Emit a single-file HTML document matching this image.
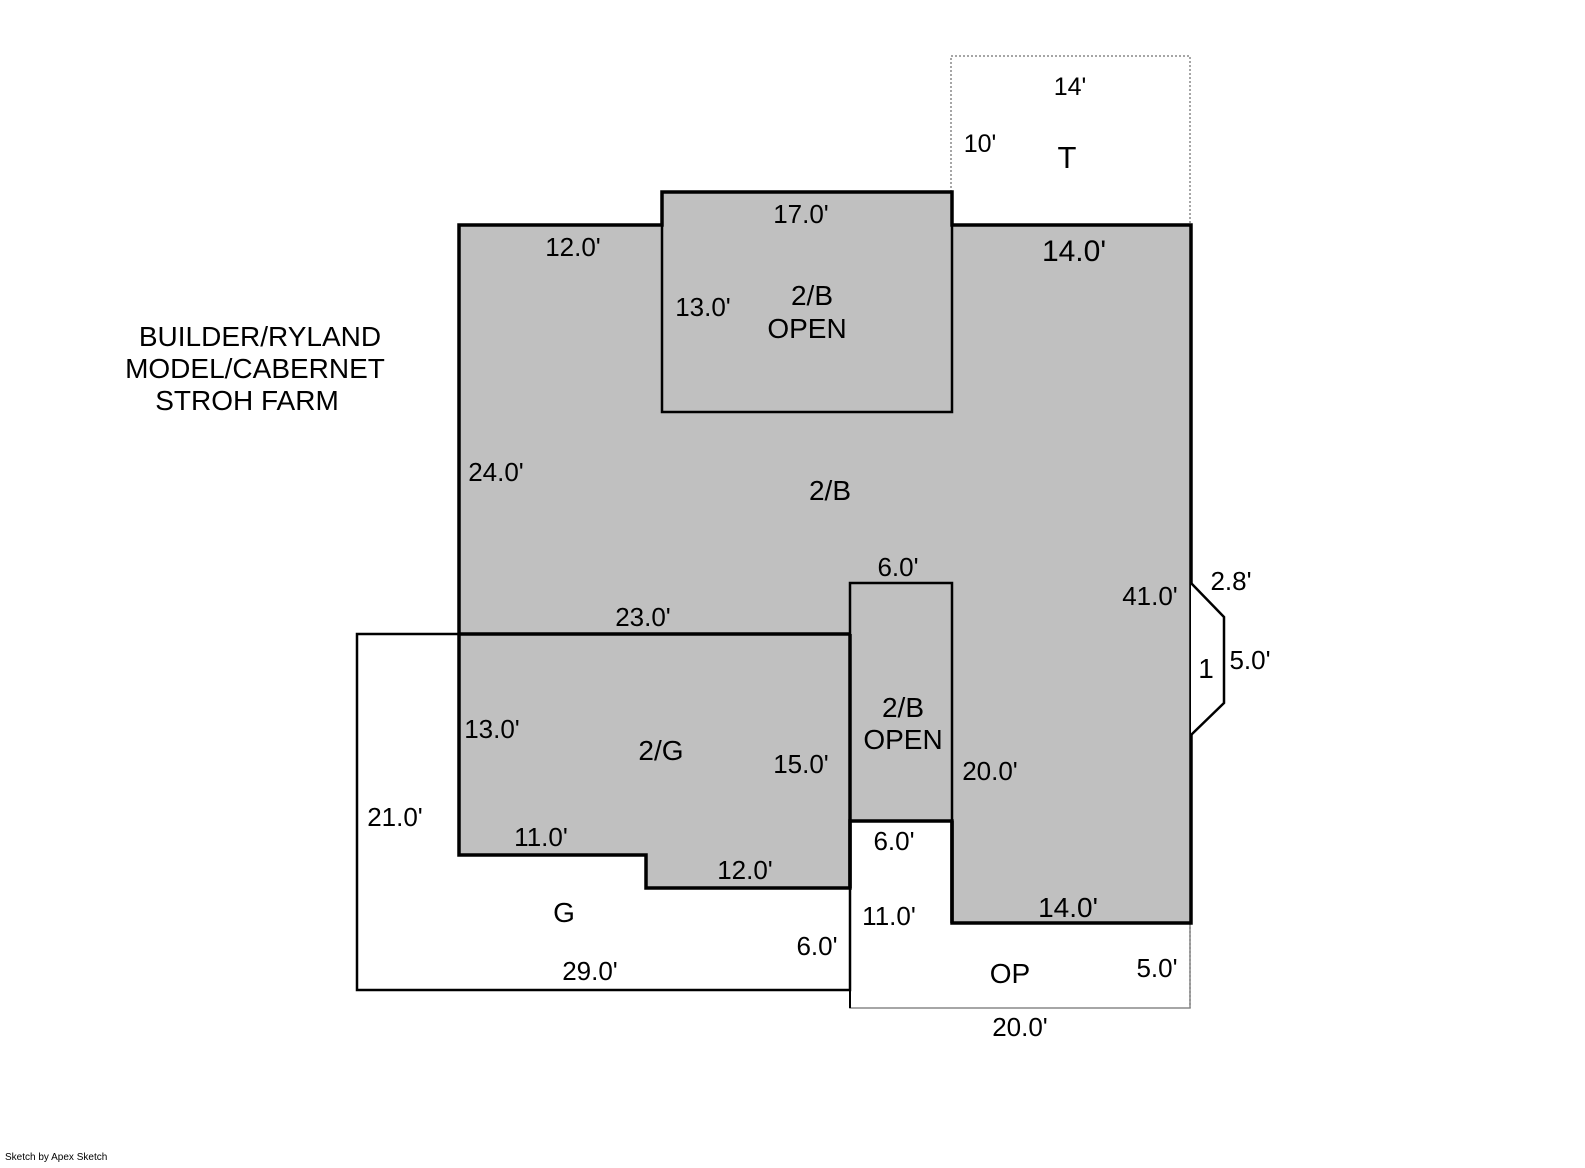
<!DOCTYPE html>
<html><head><meta charset="utf-8"><style>
body{margin:0;background:#fff}
svg text{font-family:"Liberation Sans",sans-serif;fill:#000}
</style></head><body>
<svg width="1585" height="1163" viewBox="0 0 1585 1163" xmlns="http://www.w3.org/2000/svg">
<rect width="1585" height="1163" fill="#fff"/>
<rect x="951" y="56" width="239" height="169" fill="none" stroke="#888" stroke-width="1.5" stroke-dasharray="2,2"/>
<polyline points="850,991 850,1008 1190,1008 1190,923" fill="none" stroke="#888" stroke-width="1.5"/>
<line x1="1190" y1="923" x2="1190" y2="1008" stroke="#888" stroke-width="1.5" stroke-dasharray="2,2"/>
<rect x="357" y="634" width="493" height="356" fill="#fff" stroke="#000" stroke-width="2.5"/>
<polygon points="459,225 662,225 662,192 952,192 952,225 1191,225 1191,923 952,923 952,821 850,821 850,888 646,888 646,855 459,855" fill="#c0c0c0" stroke="#000" stroke-width="3.5"/>
<line x1="459" y1="634" x2="850" y2="634" stroke="#000" stroke-width="3.5"/>
<line x1="850" y1="634" x2="850" y2="888" stroke="#000" stroke-width="3.5"/>
<line x1="850" y1="888" x2="850" y2="1008" stroke="#000" stroke-width="2"/>
<rect x="662" y="192" width="290" height="220" fill="none" stroke="#000" stroke-width="2.5"/>
<rect x="850" y="583" width="102" height="238" fill="none" stroke="#000" stroke-width="2.5"/>
<line x1="952" y1="821" x2="952" y2="923" stroke="#000" stroke-width="3.5"/>
<polyline points="1191,583 1224,617 1224,703 1191,735" fill="#fff" stroke="#000" stroke-width="2.5"/>
<g font-size="26" text-anchor="middle">
<text x="260" y="346" font-size="28">BUILDER/RYLAND</text>
<text x="255" y="378" font-size="28">MODEL/CABERNET</text>
<text x="247" y="410" font-size="28">STROH FARM</text>
<text x="1070" y="95" font-size="25">14'</text>
<text x="980" y="152" font-size="25">10'</text>
<text x="1067" y="168" font-size="31">T</text>
<text x="801" y="223">17.0'</text>
<text x="573" y="256">12.0'</text>
<text x="1074" y="261" font-size="30">14.0'</text>
<text x="703" y="316">13.0'</text>
<text x="812" y="305" font-size="28">2/B</text>
<text x="807" y="338" font-size="28">OPEN</text>
<text x="496" y="481">24.0'</text>
<text x="830" y="500" font-size="28">2/B</text>
<text x="898" y="576">6.0'</text>
<text x="1150" y="605">41.0'</text>
<text x="1231" y="590">2.8'</text>
<text x="643" y="626">23.0'</text>
<text x="1206" y="678" font-size="28">1</text>
<text x="1250" y="669">5.0'</text>
<text x="903" y="717" font-size="28">2/B</text>
<text x="903" y="749" font-size="28">OPEN</text>
<text x="492" y="738">13.0'</text>
<text x="661" y="760" font-size="28">2/G</text>
<text x="801" y="773">15.0'</text>
<text x="990" y="780">20.0'</text>
<text x="395" y="826">21.0'</text>
<text x="541" y="846">11.0'</text>
<text x="894" y="850">6.0'</text>
<text x="745" y="879">12.0'</text>
<text x="1068" y="917" font-size="28">14.0'</text>
<text x="564" y="922" font-size="28">G</text>
<text x="889" y="925">11.0'</text>
<text x="817" y="955">6.0'</text>
<text x="590" y="980">29.0'</text>
<text x="1010" y="983" font-size="28">OP</text>
<text x="1157" y="977">5.0'</text>
<text x="1020" y="1036">20.0'</text>
</g>
<text x="5" y="1160" font-size="10">Sketch by Apex Sketch</text>
</svg>
</body></html>
